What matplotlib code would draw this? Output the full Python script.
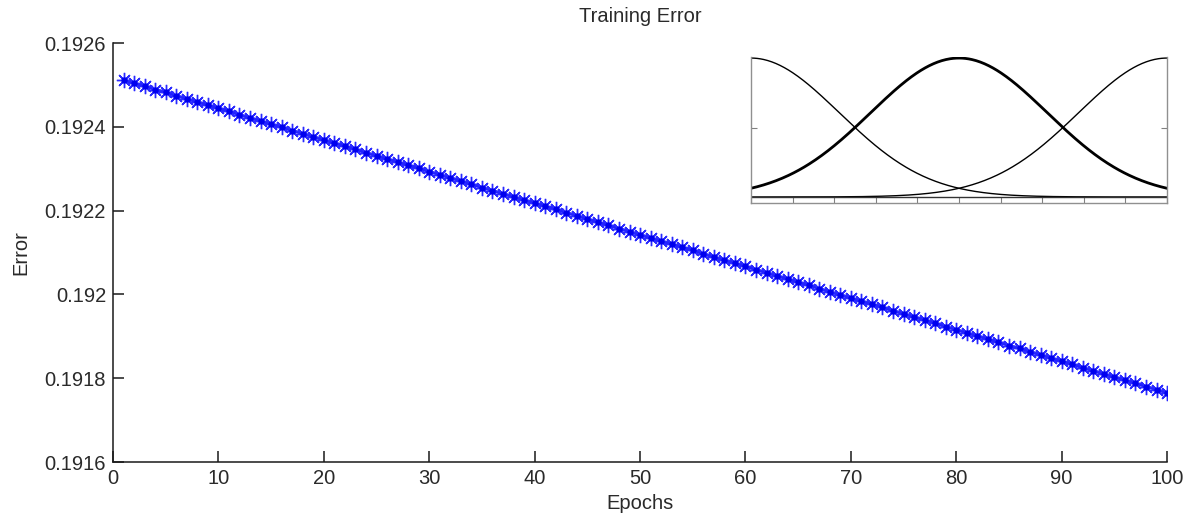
import numpy as np
import matplotlib
matplotlib.use("Agg")
import matplotlib.pyplot as plt

plt.rcParams['font.family'] = ['Liberation Sans', 'DejaVu Sans']

# Training error per epoch
epochs = list(range(1, 101))
error = [
    0.192512, 0.192504, 0.192497, 0.192489, 0.192482, 0.192474, 0.192467, 0.192459, 0.192452, 0.192444,
    0.192437, 0.192429, 0.192421, 0.192414, 0.192406, 0.192399, 0.192391, 0.192384, 0.192376, 0.192369,
    0.192361, 0.192354, 0.192346, 0.192338, 0.192331, 0.192323, 0.192316, 0.192308, 0.192301, 0.192293,
    0.192286, 0.192278, 0.192271, 0.192263, 0.192255, 0.192248, 0.192240, 0.192233, 0.192225, 0.192218,
    0.192210, 0.192203, 0.192195, 0.192188, 0.192180, 0.192172, 0.192165, 0.192157, 0.192150, 0.192142,
    0.192135, 0.192127, 0.192120, 0.192112, 0.192105, 0.192097, 0.192089, 0.192082, 0.192074, 0.192067,
    0.192059, 0.192052, 0.192044, 0.192037, 0.192029, 0.192022, 0.192014, 0.192006, 0.191999, 0.191991,
    0.191984, 0.191976, 0.191969, 0.191961, 0.191954, 0.191946, 0.191939, 0.191931, 0.191923, 0.191916,
    0.191908, 0.191901, 0.191893, 0.191886, 0.191878, 0.191871, 0.191863, 0.191856, 0.191848, 0.191840,
    0.191833, 0.191825, 0.191818, 0.191810, 0.191803, 0.191795, 0.191788, 0.191780, 0.191773, 0.191765,
]
x_ticks = [0, 10, 20, 30, 40, 50, 60, 70, 80, 90, 100]
y_ticks = [0.1916, 0.1918, 0.192, 0.1922, 0.1924, 0.1926]
y_tick_labels = ["0.1916", "0.1918", "0.192", "0.1922", "0.1924", "0.1926"]

# Gaussian membership functions shown in the inset
mf_centers = [0.0, 0.5, 1.0]
mf_sigma = 0.2123
mf_widths = [1.0, 2.0, 1.0]

text_color = '#2a2a2a'

fig = plt.figure(figsize=(11.92, 5.19), dpi=100)
ax = fig.add_axes([0.0948, 0.1098, 0.8843, 0.8073])

ax.plot(epochs, error, color='#2020ff', lw=2.2, marker=(8, 2, 0), ms=11,
        mew=1.0, mec='#2a2aff', zorder=3)
ax.plot(epochs, error, ls='none', marker='o', ms=3.6, color='#0000ee', zorder=4)

ax.set_xlim(0, 100)
ax.set_ylim(0.1916, 0.1926)
ax.set_xticks(x_ticks)
ax.set_yticks(y_ticks)
ax.set_yticklabels(y_tick_labels)
ax.spines['top'].set_visible(False)
ax.spines['right'].set_visible(False)
for s in ('left', 'bottom'):
    ax.spines[s].set_color('#1a1a1a')
    ax.spines[s].set_linewidth(1.1)
ax.tick_params(direction='in', length=8, width=1.1, color='#1a1a1a',
               labelsize=14.5, labelcolor=text_color, pad=5)
ax.tick_params(axis='x', pad=5)
ax.set_title("Training Error", fontsize=14.5, color=text_color, pad=15)
ax.set_xlabel("Epochs", fontsize=14.5, color=text_color, labelpad=4)
ax.set_ylabel("Error", fontsize=14.5, color=text_color, labelpad=10)

# Inset with membership functions
ins = fig.add_axes([0.630, 0.609, 0.349, 0.281])
xs = np.linspace(0, 1, 400)
for c, w in zip(mf_centers, mf_widths):
    ins.plot(xs, np.exp(-(xs - c) ** 2 / (2 * mf_sigma ** 2)), color='black', lw=w)
ins.axhline(0, color='#333333', lw=1.0)
ins.set_xlim(0, 1)
ins.set_ylim(-0.043, 1.007)
ins.set_xticks(np.linspace(0, 1, 11))
ins.set_yticks([0.5])
ins.tick_params(direction='in', length=4, width=0.8, color='#808080',
                labelbottom=False, labelleft=False, right=True)
ins.spines['top'].set_visible(False)
for s in ('left', 'right', 'bottom'):
    ins.spines[s].set_color('#909090')
    ins.spines[s].set_linewidth(1.0)

fig.savefig("out.png", dpi=100)
